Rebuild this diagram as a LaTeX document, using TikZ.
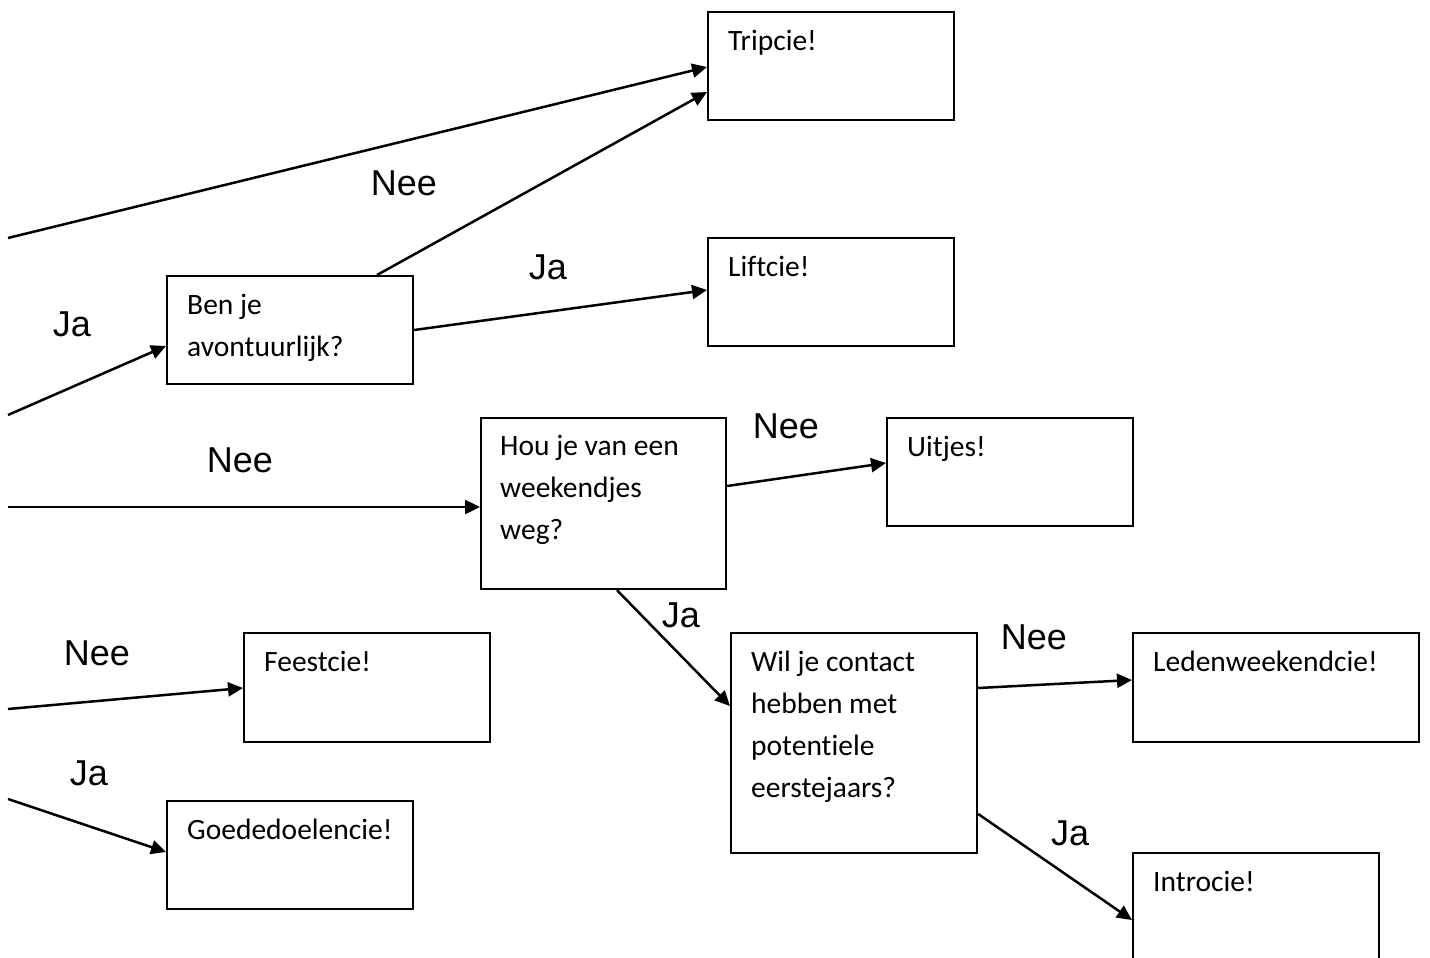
\documentclass[tikz,border=0pt]{standalone}
\usepackage{fontspec}
\setmainfont{Carlito}[Ligatures={NoCommon}]
\newfontfamily\lblfont{Liberation Sans}
\usetikzlibrary{arrows.meta,calc}
\begin{document}
\begin{tikzpicture}[x=1pt,y=-1pt,
  box/.style={draw,line width=2.2pt,anchor=north west,inner sep=0pt},
  boxtext/.style={anchor=north west,inner sep=0pt,align=left,font=\fontsize{29.5}{42}\selectfont},
  conn/.style={line width=2.5pt,-{Triangle[length=15pt,width=14pt]}},
  lbl/.style={inner sep=0pt,text depth=0pt,font=\lblfont\fontsize{36}{40}\selectfont}]
\clip (0,0) rectangle (1430,958);
\fill[white] (0,0) rectangle (1430,958);
% boxes
\node[box,minimum width=246pt,minimum height=108pt] (trip) at (707,11) {};
\node[box,minimum width=246pt,minimum height=108pt] (lift) at (707,237) {};
\node[box,minimum width=246pt,minimum height=108pt] (ben) at (166,275) {};
\node[box,minimum width=245pt,minimum height=171pt] (hou) at (480,417) {};
\node[box,minimum width=246pt,minimum height=108pt] (uit) at (886,417) {};
\node[box,minimum width=246pt,minimum height=109pt] (feest) at (243,632) {};
\node[box,minimum width=246pt,minimum height=220pt] (wil) at (730,632) {};
\node[box,minimum width=286pt,minimum height=109pt] (leden) at (1132,632) {};
\node[box,minimum width=246pt,minimum height=108pt] (goed) at (166,800) {};
\node[box,minimum width=246pt,minimum height=140pt] (intro) at (1132,852) {};
% box texts
\node[boxtext] (tript) at ($(trip.north west)+(21,10)$) {\strut Tripcie!};
\node[boxtext] (liftt) at ($(lift.north west)+(21,10)$) {\strut Liftcie!};
\node[boxtext] (bent) at ($(ben.north west)+(21,10)$) {\strut Ben je\\avontuurlijk?};
\node[boxtext] (hout) at ($(hou.north west)+(20,9)$) {\strut Hou je van een\\weekendjes\\weg?};
\node[boxtext] (uitt) at ($(uit.north west)+(21,10)$) {\strut Uitjes!};
\node[boxtext] (feestt) at ($(feest.north west)+(21,10)$) {\strut Feestcie!};
\node[boxtext] (wilt) at ($(wil.north west)+(21,10)$) {\strut Wil je contact\\hebben met\\potentiele\\eerstejaars?};
\node[boxtext] (ledent) at ($(leden.north west)+(21,10)$) {\strut Ledenweekendcie!};
\node[boxtext] (goedt) at ($(goed.north west)+(21,10)$) {\strut Goededoelencie!};
\node[boxtext] (introt) at ($(intro.north west)+(21,10)$) {\strut Introcie!};
% free ends
\coordinate (s1) at (8,238);
\coordinate (s2) at (8,415);
\coordinate (s3) at (8,507);
\coordinate (s4) at (8,709);
\coordinate (s5) at (8,799);
% connectors
\draw[conn] (s1) -- ($(trip.north west)+(0,56)$);
\draw[conn] ($(ben.north west)+(211,0)$) -- ($(trip.north west)+(0,81)$);
\draw[conn] ($(ben.north east)+(0,55)$) -- ($(lift.north west)+(0,53)$);
\draw[conn] (s2) -- ($(ben.north west)+(0,71)$);
\draw[conn] (s3) -- ($(hou.north west)+(0,90)$);
\draw[conn] ($(hou.north east)+(0,69)$) -- ($(uit.north west)+(0,46)$);
\draw[conn] ($(hou.south west)+(137,0)$) -- ($(wil.north west)+(0,74)$);
\draw[conn] (s4) -- ($(feest.north west)+(0,56)$);
\draw[conn] (s5) -- ($(goed.north west)+(0,52)$);
\draw[conn] ($(wil.north east)+(0,56)$) -- ($(leden.north west)+(0,48)$);
\draw[conn] ($(wil.north east)+(0,182)$) -- ($(intro.north west)+(0,68)$);
% labels
\node[lbl] (l1) at (404,183) {Nee};
\node[lbl] (l2) at (548,267) {Ja};
\node[lbl] (l3) at (72,324) {Ja};
\node[lbl] (l4) at (240,460) {Nee};
\node[lbl] (l5) at (786,426) {Nee};
\node[lbl] (l6) at (681,615) {Ja};
\node[lbl] (l7) at (97,653) {Nee};
\node[lbl] (l8) at (1034,637) {Nee};
\node[lbl] (l9) at (89,773) {Ja};
\node[lbl] (l10) at (1070,833) {Ja};
\end{tikzpicture}
\end{document}
